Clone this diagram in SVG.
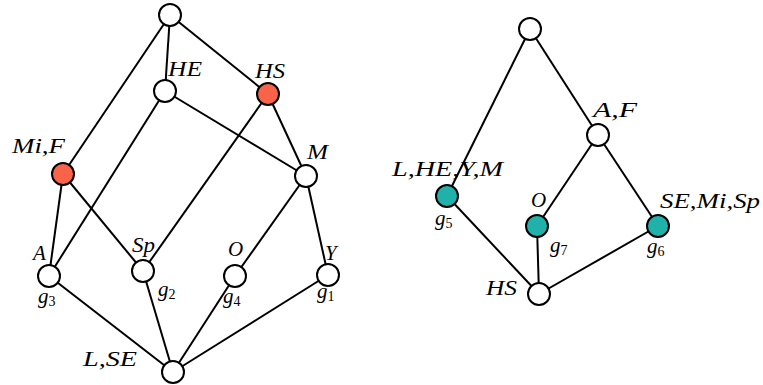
<svg xmlns="http://www.w3.org/2000/svg" width="763" height="385" viewBox="0 0 763 385">
<style>
.e{stroke:#000;stroke-width:2;fill:none}
.n{stroke:#000;stroke-width:2;fill:#fff}
.r{fill:#F8634A}
.t{fill:#20B2AA}
text{font-family:"Liberation Serif",serif;font-style:italic;font-size:21px;fill:#000}
.s{font-style:normal;font-size:14px}
</style>
<rect width="763" height="385" fill="#fff"/>
<g id="connectors">
<line class="e" x1="170" y1="15" x2="165" y2="91"/>
<line class="e" x1="170" y1="15" x2="268" y2="94"/>
<line class="e" x1="170" y1="15" x2="63" y2="174"/>
<line class="e" x1="165" y1="91" x2="49" y2="276"/>
<line class="e" x1="165" y1="91" x2="306" y2="176"/>
<line class="e" x1="268" y1="94" x2="143" y2="271"/>
<line class="e" x1="268" y1="94" x2="306" y2="176"/>
<line class="e" x1="63" y1="174" x2="49" y2="276"/>
<line class="e" x1="63" y1="174" x2="143" y2="271"/>
<line class="e" x1="306" y1="176" x2="235" y2="276"/>
<line class="e" x1="306" y1="176" x2="328" y2="275"/>
<line class="e" x1="49" y1="276" x2="173" y2="372"/>
<line class="e" x1="143" y1="271" x2="173" y2="372"/>
<line class="e" x1="235" y1="276" x2="173" y2="372"/>
<line class="e" x1="328" y1="275" x2="173" y2="372"/>
<line class="e" x1="530" y1="29" x2="447" y2="196"/>
<line class="e" x1="530" y1="29" x2="598" y2="135"/>
<line class="e" x1="598" y1="135" x2="537" y2="226"/>
<line class="e" x1="598" y1="135" x2="658" y2="226"/>
<line class="e" x1="447" y1="196" x2="539" y2="294"/>
<line class="e" x1="537" y1="226" x2="539" y2="294"/>
<line class="e" x1="658" y1="226" x2="539" y2="294"/>
</g>
<g id="L-top"><circle class="n" cx="170" cy="15" r="11"/></g>
<g id="L-HE"><circle class="n" cx="165" cy="91" r="11"/><text x="168" y="76" textLength="34" lengthAdjust="spacingAndGlyphs">HE</text></g>
<g id="L-HS"><circle class="n r" cx="268" cy="94" r="11"/><text x="255" y="78" textLength="30" lengthAdjust="spacingAndGlyphs">HS</text></g>
<g id="L-MiF"><circle class="n r" cx="63" cy="174" r="11"/><text x="12" y="153" textLength="53" lengthAdjust="spacingAndGlyphs">Mi,F</text></g>
<g id="L-M"><circle class="n" cx="306" cy="176" r="11"/><text x="307" y="159" textLength="21" lengthAdjust="spacingAndGlyphs">M</text></g>
<g id="L-A"><circle class="n" cx="49" cy="276" r="11"/><text x="33" y="260">A</text><text x="38" y="303">g<tspan class="s" dy="3">3</tspan></text></g>
<g id="L-Sp"><circle class="n" cx="143" cy="271" r="11"/><text x="132" y="252" textLength="23" lengthAdjust="spacingAndGlyphs">Sp</text><text x="158" y="296">g<tspan class="s" dy="3">2</tspan></text></g>
<g id="L-O"><circle class="n" cx="235" cy="276" r="11"/><text x="228" y="256">O</text><text x="223" y="303">g<tspan class="s" dy="3">4</tspan></text></g>
<g id="L-Y"><circle class="n" cx="328" cy="275" r="11"/><text x="325" y="260">Y</text><text x="317" y="298">g<tspan class="s" dy="3">1</tspan></text></g>
<g id="L-bottom"><circle class="n" cx="173" cy="372" r="11"/><text x="83" y="366" textLength="54" lengthAdjust="spacingAndGlyphs">L,SE</text></g>
<g id="R-top"><circle class="n" cx="530" cy="29" r="11"/></g>
<g id="R-AF"><circle class="n" cx="598" cy="135" r="11"/><text x="593" y="117" textLength="44" lengthAdjust="spacingAndGlyphs">A,F</text></g>
<g id="R-g5"><circle class="n t" cx="447" cy="196" r="11"/><text x="392" y="176" textLength="111" lengthAdjust="spacingAndGlyphs">L,HE,Y,M</text><text x="435" y="225">g<tspan class="s" dy="3">5</tspan></text></g>
<g id="R-g7"><circle class="n t" cx="537" cy="226" r="11"/><text x="531" y="207">O</text><text x="550" y="252">g<tspan class="s" dy="3">7</tspan></text></g>
<g id="R-g6"><circle class="n t" cx="658" cy="226" r="11"/><text x="660" y="208" textLength="100" lengthAdjust="spacingAndGlyphs">SE,Mi,Sp</text><text x="647" y="253">g<tspan class="s" dy="3">6</tspan></text></g>
<g id="R-HS"><circle class="n" cx="539" cy="294" r="11"/><text x="486" y="295" textLength="31" lengthAdjust="spacingAndGlyphs">HS</text></g>
</svg>
